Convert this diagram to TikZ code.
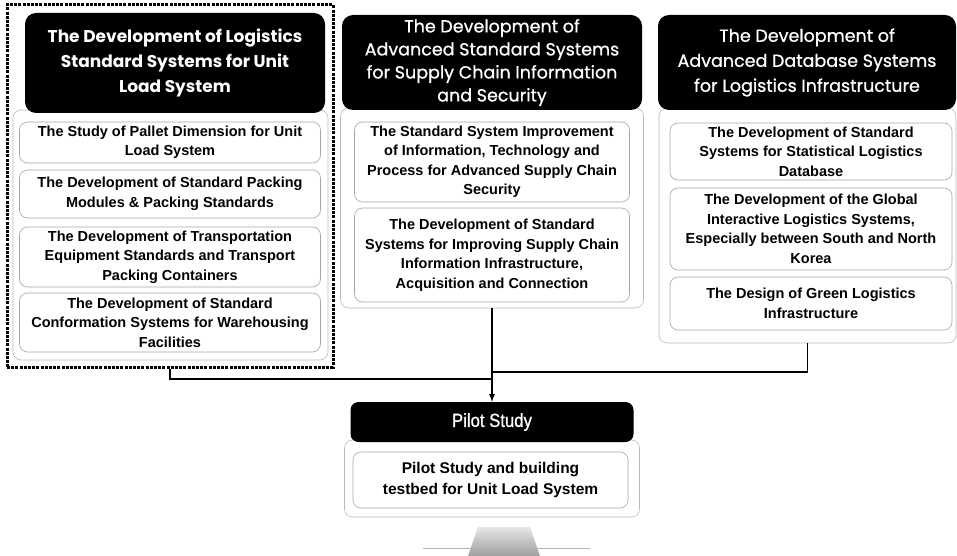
\documentclass[tikz,border=0pt]{standalone}
\usepackage{fontspec}
\setmainfont{Liberation Sans}
\newfontfamily\headfont[FakeBold=0.8]{Poppins}
\newfontfamily\headboldfont{Poppins}
\newfontfamily\pilotfont[FakeStretch=0.88,FakeBold=1]{Liberation Sans}

\tikzset{
  head/.style={fill=black, text=white, rounded corners=11pt, inner sep=0pt, align=center,
               font=\headfont\fontsize{17.5}{25}\selectfont},
  holder/.style={draw=gray!55, line width=0.6pt, rounded corners=8pt, inner sep=0pt},
  item/.style={draw=gray!70, fill=white, line width=0.6pt, rounded corners=8pt, inner sep=0pt,
               align=center, font=\bfseries\fontsize{14.5}{19.5}\selectfont},
  conn/.style={line width=1.6pt, draw=black},
  >=latex
}

\begin{document}
\begin{tikzpicture}[x=1pt,y=-1pt]
\useasboundingbox (0,0) rectangle (957,556);

\node [holder, minimum width=315pt, minimum height=250pt] (c1) at (170.5,235) {};
\node [holder, minimum width=303pt, minimum height=200pt] (c2) at (492,208) {};
\node [holder, minimum width=297pt, minimum height=235pt] (c3) at (807.5,225.5) {};
\node [holder, minimum width=295pt, minimum height=77pt] (pc) at (492,478.5) {};

\node [draw, line width=3pt, dash pattern=on 3pt off 1.2pt, minimum width=326pt, minimum height=362pt] (frame) at (170,186) {};

\node [head, font=\headboldfont\bfseries\fontsize{17}{25}\selectfont, minimum width=300pt, minimum height=100pt] (h1) at (175,63)
  {The Development of Logistics\\Standard Systems for Unit\\Load System};
\node [head, font=\headfont\fontsize{17.5}{23}\selectfont, minimum width=300pt, minimum height=95pt] (h2) at (492,62.5)
  {The Development of\\Advanced Standard Systems\\for Supply Chain Information\\and Security};
\node [head, minimum width=298pt, minimum height=95pt] (h3) at (807,62.5)
  {The Development of\\Advanced Database Systems\\for Logistics Infrastructure};

\node [item, minimum width=301pt, minimum height=41pt] (i11) at (170,142.5)
  {The Study of Pallet Dimension for Unit\\Load System};
\node [item, minimum width=301pt, minimum height=48pt] (i12) at (170,194)
  {The Development of Standard Packing\\Modules \& Packing Standards};
\node [item, minimum width=301pt, minimum height=60pt] (i13) at (170,257)
  {The Development of Transportation\\Equipment Standards and Transport\\Packing Containers};
\node [item, minimum width=301pt, minimum height=59pt] (i14) at (170,322.5)
  {The Development of Standard\\Conformation Systems for Warehousing\\Facilities};

\node [item, minimum width=275pt, minimum height=80pt] (i21) at (492,162)
  {The Standard System Improvement\\of Information, Technology and\\Process for Advanced Supply Chain\\Security};
\node [item, minimum width=275pt, minimum height=94pt] (i22) at (492,255)
  {The Development of Standard\\Systems for Improving Supply Chain\\Information Infrastructure,\\Acquisition and Connection};

\node [item, minimum width=282pt, minimum height=57pt] (i31) at (811,151.5)
  {The Development of Standard\\Systems for Statistical Logistics\\Database};
\node [item, minimum width=282pt, minimum height=82pt] (i32) at (811,229)
  {The Development of the Global\\Interactive Logistics Systems,\\Especially between South and North\\Korea};
\node [item, minimum width=282pt, minimum height=53pt] (i33) at (811,303.5)
  {The Design of Green Logistics\\Infrastructure};

\node [head, rounded corners=8pt, font=\pilotfont\fontsize{19}{22}\selectfont, minimum width=283pt, minimum height=40pt] (ph) at (492,422) {Pilot Study};
\node [item, font=\bfseries\fontsize{15.5}{21}\selectfont, minimum width=275pt, minimum height=56pt] (pi) at (490.5,480)
  {Pilot Study and building\\testbed for Unit Load System};

\coordinate (j1) at (492,379);
\coordinate (j3) at (492,372);
\draw [conn] (frame.south) |- (j1);
\draw [conn] (c3.south) |- (j3);
\draw [conn,->] (c2.south) -- (ph.north);

\draw [gray!60, line width=0.6pt] (423,548) -- (590,548);
\shade [top color=gray!20, bottom color=gray!75] (478,527) -- (530,527) -- (540,556) -- (468,556) -- cycle;
\end{tikzpicture}
\end{document}
